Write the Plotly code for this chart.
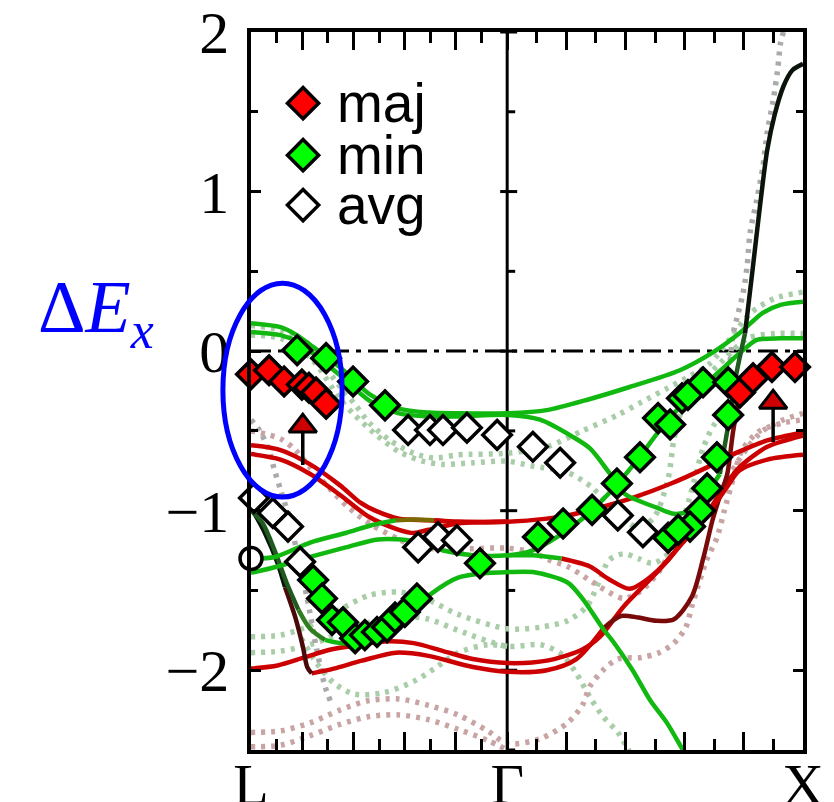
import plotly.graph_objects as go

# ---------------- k-path and energy window ----------------
K_L, K_G, K_X = 0.0, 0.866, 1.866
E_MIN, E_MAX = -2.5, 2.0

# ---------------- solid band lines (k, E) ----------------
ga_k = [0, 0.1, 0.155, 0.2, 0.3, 0.4, 0.5, 0.6, 0.7, 0.866, 1.0, 1.146, 1.28, 1.45, 1.56, 1.65, 1.73, 1.79, 1.866]
ga_e = [0.175, 0.15, 0.10, 0.04, -0.10, -0.27, -0.36, -0.385, -0.39, -0.39, -0.37, -0.30, -0.225, -0.12, -0.01, 0.11, 0.24, 0.29, 0.31]

gb_k = [0, 0.1, 0.155, 0.2, 0.3, 0.4, 0.5, 0.6, 0.7, 0.866, 0.977, 1.09, 1.146, 1.21, 1.26, 1.3, 1.37, 1.43, 1.48, 1.54, 1.585]
gb_e = [0.12, 0.10, 0.06, 0.0, -0.15, -0.31, -0.39, -0.41, -0.41, -0.40, -0.43, -0.54, -0.61, -0.76, -0.89, -0.93, -0.98, -1.02, -1.0, -0.89, -0.77]
gb_dark_k = [1.585, 1.61, 1.64, 1.67]
gb_dark_e = [-0.77, -0.5, -0.15, 0.11]
gb_black_k = [1.67, 1.695, 1.72, 1.745, 1.77, 1.80, 1.83, 1.866]
gb_black_e = [0.11, 0.5, 0.9, 1.26, 1.48, 1.66, 1.76, 1.80]

ge_k = [0, 0.08, 0.2, 0.32, 0.41, 0.49]
ge_e = [-1.30, -1.29, -1.2, -1.14, -1.09, -1.06]
ge_mix_k = [0.49, 0.55, 0.62]
ge_mix_e = [-1.06, -1.055, -1.06]
ge_red_k = [0.62, 0.7, 0.866]
ge_red_e = [-1.06, -1.07, -1.07]

gc_k = [0, 0.09, 0.2, 0.32, 0.43, 0.55, 0.65, 0.75, 0.866, 0.95, 1.03, 1.146, 1.24, 1.315, 1.38, 1.47, 1.54, 1.6, 1.66, 1.71, 1.79, 1.866]
gc_e = [-1.39, -1.35, -1.29, -1.23, -1.18, -1.19, -1.25, -1.28, -1.28, -1.25, -1.17, -1.01, -0.83, -0.66, -0.5, -0.31, -0.2, -0.1, 0.0, 0.07, 0.08, 0.08]

gv_dark_k = [0, 0.04, 0.08, 0.12, 0.16]
gv_dark_e = [-1.0, -1.08, -1.25, -1.45, -1.62]
gv_mid_k = [0.16, 0.2, 0.25]
gv_mid_e = [-1.62, -1.74, -1.81]
gv_k = [0.25, 0.3, 0.38, 0.45, 0.5, 0.55, 0.61, 0.7, 0.8, 0.866, 0.953, 1.07, 1.12, 1.19, 1.224, 1.29, 1.35, 1.406, 1.46, 1.5]
gv_e = [-1.81, -1.83, -1.83, -1.79, -1.72, -1.62, -1.52, -1.42, -1.39, -1.385, -1.385, -1.45, -1.55, -1.74, -1.82, -2.0, -2.19, -2.33, -2.5, -2.62]

ra_k = [0, 0.1, 0.2, 0.3, 0.37, 0.42, 0.5, 0.6, 0.7, 0.866, 1.0, 1.07, 1.18, 1.29, 1.42, 1.54, 1.65, 1.745, 1.866]
ra_e = [-0.59, -0.62, -0.71, -0.84, -0.95, -1.0, -1.05, -1.06, -1.07, -1.07, -1.05, -1.03, -0.98, -0.92, -0.83, -0.73, -0.63, -0.56, -0.51]

rb_k = [0, 0.1, 0.2, 0.3, 0.4, 0.5, 0.55, 0.6, 0.7, 0.866]
rb_e = [-0.645, -0.68, -0.77, -0.9, -1.04, -1.12, -1.14, -1.12, -1.08, -1.07]
rb2_green_k = [0.866, 0.95, 1.05]
rb2_green_e = [-1.28, -1.28, -1.30]
rb2_k = [1.05, 1.146, 1.21, 1.28, 1.34, 1.41, 1.48, 1.56, 1.61, 1.65, 1.745, 1.866]
rb2_e = [-1.30, -1.35, -1.43, -1.49, -1.43, -1.31, -1.14, -0.98, -0.85, -0.75, -0.68, -0.65]

rc_k = [0, 0.09, 0.18, 0.27, 0.37, 0.45, 0.55, 0.65, 0.75, 0.866, 1.0, 1.12, 1.18, 1.26, 1.37, 1.46, 1.54, 1.6, 1.65, 1.745, 1.866]
rc_e = [-1.99, -1.97, -1.92, -1.87, -1.84, -1.82, -1.83, -1.88, -1.93, -1.955, -1.94, -1.87, -1.79, -1.6, -1.39, -1.2, -1.02, -0.85, -0.73, -0.60, -0.53]

rd_black_k = [0, 0.047, 0.09, 0.115]
rd_black_e = [-0.98, -1.14, -1.33, -1.48]
rd_dark_k = [0.115, 0.15, 0.175, 0.19, 0.205]
rd_dark_e = [-1.48, -1.67, -1.85, -1.98, -2.02]
rd_k = [0.205, 0.28, 0.375, 0.49, 0.6, 0.75, 0.866, 1.0, 1.1, 1.19]
rd_e = [-2.02, -1.99, -1.94, -1.89, -1.91, -1.98, -2.01, -2.0, -1.93, -1.74]
rd2_k = [1.19, 1.25, 1.31, 1.37, 1.43, 1.49, 1.53, 1.56, 1.585, 1.61, 1.63, 1.66]
rd2_e = [-1.74, -1.66, -1.67, -1.69, -1.68, -1.54, -1.29, -1.06, -0.91, -0.77, -0.5, -0.2]

# ---------------- dotted (projected) bands ----------------
dg1_k = [0, 0.1, 0.2, 0.25, 0.3, 0.35, 0.4, 0.47, 0.55, 0.62, 0.7, 0.866, 1.0, 1.12, 1.24, 1.32, 1.41, 1.48, 1.55, 1.62, 1.69, 1.77, 1.866]
dg1_e = [0.16, 0.13, 0.02, -0.1, -0.22, -0.33, -0.45, -0.56, -0.64, -0.67, -0.65, -0.64, -0.6, -0.5, -0.4, -0.32, -0.23, -0.16, -0.08, 0.08, 0.24, 0.33, 0.37]
dg2_k = [0, 0.1, 0.2, 0.25, 0.3, 0.35, 0.42, 0.5, 0.58, 0.65, 0.75, 0.866, 0.95, 1.07, 1.15, 1.22, 1.3, 1.36, 1.41, 1.43, 1.46, 1.52, 1.6, 1.68, 1.77, 1.866]
dg2_e = [0.10, 0.08, -0.04, -0.16, -0.3, -0.4, -0.52, -0.63, -0.69, -0.71, -0.7, -0.69, -0.72, -0.76, -0.85, -0.98, -1.1, -1.05, -0.8, -0.55, -0.35, -0.2, -0.05, 0.08, 0.11, 0.11]
dg3_k = [0, 0.1, 0.2, 0.3, 0.4, 0.5, 0.6, 0.7, 0.866, 0.98, 1.07, 1.135, 1.18, 1.21, 1.26, 1.31, 1.36, 1.42, 1.47, 1.5, 1.53, 1.57, 1.62]
dg3_e = [-1.79, -1.78, -1.72, -1.62, -1.53, -1.51, -1.56, -1.65, -1.74, -1.73, -1.69, -1.6, -1.43, -1.31, -1.27, -1.3, -1.33, -1.25, -1.0, -0.8, -0.6, -0.45, -0.38]
dg4_k = [0, 0.1, 0.2, 0.3, 0.4, 0.5, 0.6, 0.7, 0.866, 0.98, 1.05, 1.1, 1.146, 1.19, 1.24, 1.27, 1.29]
dg4_e = [-1.89, -1.88, -1.84, -1.77, -1.7, -1.66, -1.68, -1.75, -1.85, -1.84, -1.9, -2.02, -2.17, -2.29, -2.39, -2.48, -2.55]
dg5_k = [0.17, 0.22, 0.28, 0.35, 0.45, 0.55, 0.62, 0.7, 0.8, 0.866]
dg5_e = [-1.8, -1.95, -2.08, -2.15, -2.14, -2.07, -1.99, -1.89, -1.84, -1.85]

dp1_k = [0, 0.1, 0.15, 0.2, 0.27, 0.33, 0.4, 0.5, 0.57, 0.7, 0.866, 0.95, 1.01, 1.07, 1.14, 1.2, 1.26, 1.32, 1.38, 1.43, 1.48, 1.53, 1.575, 1.62, 1.68, 1.73, 1.8, 1.866]
dp1_e = [-0.5, -0.55, -0.62, -0.73, -0.87, -0.98, -1.08, -1.18, -1.23, -1.24, -1.235, -1.26, -1.31, -1.35, -1.43, -1.5, -1.55, -1.5, -1.38, -1.22, -1.1, -1.06, -0.93, -0.77, -0.6, -0.5, -0.43, -0.39]
dp2_k = [0, 0.1, 0.2, 0.3, 0.4, 0.5, 0.6, 0.7, 0.8, 0.866, 0.977, 1.07, 1.12, 1.146, 1.19, 1.24, 1.32, 1.38, 1.43, 1.47, 1.49, 1.51, 1.54, 1.575, 1.6, 1.63, 1.66, 1.72, 1.8, 1.866]
dp2_e = [-2.39, -2.38, -2.33, -2.25, -2.19, -2.18, -2.22, -2.28, -2.38, -2.46, -2.43, -2.33, -2.22, -2.1, -2.0, -1.93, -1.92, -1.89, -1.83, -1.73, -1.6, -1.48, -1.31, -1.17, -1.0, -0.8, -0.62, -0.5, -0.45, -0.43]
dp3_k = [0, 0.1, 0.2, 0.3, 0.4, 0.5, 0.6, 0.7, 0.8, 0.866]
dp3_e = [-2.48, -2.47, -2.41, -2.34, -2.29, -2.28, -2.31, -2.37, -2.44, -2.5]

dx1_k = [1.80, 1.79, 1.78, 1.765, 1.745, 1.73, 1.71, 1.687, 1.677, 1.663, 1.643, 1.63, 1.62]
dx1_e = [2.0, 1.93, 1.76, 1.57, 1.37, 1.15, 0.95, 0.74, 0.53, 0.36, 0.21, 0.11, -0.06]
dx2_k = [0, 0.03, 0.06, 0.08, 0.1, 0.13, 0.16, 0.19, 0.22, 0.25, 0.27]
dx2_e = [-0.43, -0.5, -0.62, -0.75, -0.87, -1.05, -1.3, -1.55, -1.85, -2.1, -2.2]

# ---------------- symbols ----------------
maj_k = [0.0, 0.061, 0.112, 0.172, 0.196, 0.22, 0.254, 1.653, 1.697, 1.761, 1.839]
maj_e = [-0.145, -0.12, -0.19, -0.21, -0.23, -0.26, -0.33, -0.26, -0.17, -0.10, -0.10]

min_k = [0.156, 0.254, 0.345, 0.453,
         0.21, 0.24, 0.274, 0.311, 0.352, 0.385, 0.426, 0.46, 0.487, 0.52, 0.561,
         0.774,
         0.97, 1.055, 1.153, 1.237, 1.315, 1.376, 1.417, 1.457, 1.477, 1.528, 1.613,
         1.613, 1.575, 1.542, 1.518, 1.484, 1.41, 1.444]
min_e = [0.006, -0.044, -0.19, -0.34,
         -1.435, -1.55, -1.685, -1.70, -1.80, -1.78, -1.76, -1.73, -1.67, -1.635, -1.55,
         -1.33,
         -1.165, -1.08, -0.995, -0.83, -0.665, -0.42, -0.46, -0.295, -0.275, -0.195, -0.195,
         -0.40, -0.665, -0.86, -1.0, -1.10, -1.17, -1.12]

avg_k = [0.01, 0.074, 0.125, 0.166, 0.531, 0.605, 0.649, 0.73, 0.832, 0.953, 1.045,
         0.565, 0.632, 0.696, 1.24, 1.325]
avg_e = [-0.92, -1.015, -1.10, -1.32, -0.495, -0.495, -0.495, -0.48, -0.525, -0.60, -0.70,
         -1.23, -1.165, -1.185, -1.03, -1.135]

circ_k = [0.0]
circ_e = [-1.30]

arrow_k = [0.175, 1.765]
arrow_tail = [-0.714, -0.57]
arrow_head = [-0.47, -0.32]

legend_labels = ["maj", "min", "avg"]
legend_fill = ["#ff0000", "#00ff00", "#ffffff"]
legend_k = 0.176
legend_text_k = 0.284
legend_e = [1.554, 1.228, 0.915]

ellipse = dict(k0=-0.095, k1=0.308, e0=-0.915, e1=0.426)

# ---------------- styles ----------------
GREEN = "#10b810"
RED = "#cc0000"
DKRED = "#7a0a0a"
DKGREEN = "#1f5a1f"
MIDGREEN = "#2f7f1f"
BLACK = "#0a140a"
OLIVE = "#7a6a00"
PGREEN = "#a9cda9"
PPINK = "#c8a4a4"
PGRAY = "#aaaaaa"

fig = go.Figure()


def dotted(k, e, color):
    fig.add_trace(go.Scatter(x=k, y=e, mode="lines",
                             line=dict(color=color, width=5.5, dash="4px,6px", shape="spline", smoothing=0.8),
                             hoverinfo="skip", showlegend=False))


def solid(k, e, color, width=4.5):
    fig.add_trace(go.Scatter(x=k, y=e, mode="lines", line=dict(color=color, width=width, shape="spline", smoothing=0.8),
                             hoverinfo="skip", showlegend=False))


for k, e, c in [(dg1_k, dg1_e, PGREEN), (dg2_k, dg2_e, PGREEN), (dg3_k, dg3_e, PGREEN),
                (dg4_k, dg4_e, PGREEN), (dg5_k, dg5_e, PGREEN),
                (dp1_k, dp1_e, PPINK), (dp2_k, dp2_e, PPINK), (dp3_k, dp3_e, PPINK),
                (dx1_k, dx1_e, PGRAY), (dx2_k, dx2_e, PGRAY)]:
    dotted(k, e, c)

for k, e, c in [(rc_k, rc_e, RED), (rd_k, rd_e, RED), (rd2_k, rd2_e, DKRED),
                (rd_black_k, rd_black_e, BLACK), (rd_dark_k, rd_dark_e, "#4a0a0a"),
                (ra_k, ra_e, RED), (rb_k, rb_e, RED),
                (rb2_green_k, rb2_green_e, GREEN), (rb2_k, rb2_e, RED),
                (gv_dark_k, gv_dark_e, DKGREEN), (gv_mid_k, gv_mid_e, MIDGREEN), (gv_k, gv_e, GREEN),
                (ge_k, ge_e, GREEN), (ge_mix_k, ge_mix_e, OLIVE), (ge_red_k, ge_red_e, RED),
                (gc_k, gc_e, GREEN),
                (ga_k, ga_e, GREEN), (gb_k, gb_e, GREEN),
                (gb_dark_k, gb_dark_e, DKGREEN), (gb_black_k, gb_black_e, BLACK)]:
    solid(k, e, c)

# arrows
ax_x, ax_y = [], []
for k, t, h in zip(arrow_k, arrow_tail, arrow_head):
    ax_x += [k, k, None]
    ax_y += [t, h, None]
fig.add_trace(go.Scatter(x=ax_x, y=ax_y, mode="lines", line=dict(color="black", width=3.5),
                         hoverinfo="skip", showlegend=False))
fig.add_trace(go.Scatter(x=arrow_k, y=arrow_head, mode="markers", cliponaxis=False,
                         marker=dict(symbol="triangle-up", size=24, color="#cc0000", line=dict(color="black", width=3)),
                         hoverinfo="skip", showlegend=False))

MK = dict(size=22, line=dict(color="black", width=3.5))
fig.add_trace(go.Scatter(x=avg_k, y=avg_e, mode="markers", cliponaxis=False,
                         marker=dict(symbol="diamond", color="white", **MK), showlegend=False))
fig.add_trace(go.Scatter(x=min_k, y=min_e, mode="markers", cliponaxis=False,
                         marker=dict(symbol="diamond", color="#00ff00", **MK), showlegend=False))
fig.add_trace(go.Scatter(x=maj_k, y=maj_e, mode="markers", cliponaxis=False,
                         marker=dict(symbol="diamond", color="#ff0000", **MK), showlegend=False))
fig.add_trace(go.Scatter(x=circ_k, y=circ_e, mode="markers", cliponaxis=False,
                         marker=dict(symbol="circle", color="white", size=22, line=dict(color="black", width=3.5)),
                         showlegend=False))

# in-plot legend
fig.add_trace(go.Scatter(x=[legend_k] * len(legend_e), y=legend_e, mode="markers", cliponaxis=False,
                         marker=dict(symbol="diamond", size=24, color=legend_fill, line=dict(color="black", width=3.5)),
                         showlegend=False, hoverinfo="skip"))
for lab, e in zip(legend_labels, legend_e):
    fig.add_annotation(x=legend_text_k, y=e, xref="x", yref="y", text=lab, showarrow=False,
                       xanchor="left", yanchor="middle",
                       font=dict(family="Liberation Sans", size=55, color="black"))

# axes ticks
dL = (K_G - K_L) / 10
dX = (K_X - K_G) / 10
x_major = [K_L] + [K_L + i * dL for i in (2, 4, 6, 8)] + [K_G] + [K_G + i * dX for i in (2, 4, 6, 8)] + [K_X]
x_text = ["L", "", "", "", "", "Γ", "", "", "", "", "X"]
x_minor = [K_L + i * dL for i in (1, 3, 5, 7, 9)] + [K_G + i * dX for i in (1, 3, 5, 7, 9)]
y_major = [-2, -1, 0, 1, 2]
y_text = ["−2", "−1", "0", "1", "2"]

TICKFONT = dict(family="Liberation Serif", size=60, color="black")
XFONT = dict(family="Liberation Serif", size=58, color="black")
fig.update_xaxes(range=[K_L, K_X], showgrid=False, zeroline=False, showline=True, linecolor="black", linewidth=3.5,
                 mirror="allticks", ticks="inside", ticklen=18, tickwidth=3, tickcolor="black", automargin=False,
                 tickmode="array", tickvals=x_major, ticktext=x_text, tickfont=XFONT, ticklabelstandoff=-19,
                 minor=dict(tickmode="array", tickvals=x_minor, ticks="inside", ticklen=11, tickwidth=3, tickcolor="black"))
fig.update_yaxes(range=[E_MIN, E_MAX], showgrid=False, zeroline=False, showline=True, linecolor="black", linewidth=3.5,
                 mirror="allticks", ticks="inside", ticklen=10, tickwidth=3, tickcolor="black", automargin=False,
                 tickmode="array", tickvals=y_major, ticktext=y_text, tickfont=TICKFONT, ticklabelstandoff=6,
                 minor=dict(dtick=0.5, tick0=0, ticks="inside", ticklen=7, tickwidth=3, tickcolor="black"))

# Γ line, zero reference, Γ ticks
fig.add_shape(type="line", xref="x", yref="paper", x0=K_G, x1=K_G, y0=0, y1=1,
              line=dict(color="black", width=3), layer="below")
fig.add_shape(type="line", xref="paper", yref="y", x0=0, x1=1, y0=0, y1=0,
              line=dict(color="black", width=3, dash="20px,7px,5px,7px"), layer="below")
e = E_MIN
while e <= E_MAX + 1e-9:
    major = abs(e - round(e)) < 1e-9
    fig.add_shape(type="line", xref="x", yref="y", xsizemode="pixel", xanchor=K_G,
                  x0=-7 if major else 0, x1=10 if major else 8, y0=e, y1=e,
                  line=dict(color="black", width=3), layer="below")
    e += 0.5


# ellipse (paper coordinates derived from data coordinates)
def px(k):
    return (k - K_L) / (K_X - K_L)


def py(v):
    return (v - E_MIN) / (E_MAX - E_MIN)


fig.add_shape(type="circle", xref="paper", yref="paper",
              x0=px(ellipse["k0"]), x1=px(ellipse["k1"]), y0=py(ellipse["e0"]), y1=py(ellipse["e1"]),
              line=dict(color="#0000ff", width=5), layer="above")

# axis title
fig.add_annotation(xref="paper", yref="paper", x=(96 - 251) / 552, y=(750 - 312) / 718,
                   text="Δ<i>E</i><sub><i>x</i></sub>", showarrow=False, xanchor="center", yanchor="middle",
                   font=dict(family="Liberation Serif", size=74, color="#0000ff"))

fig.update_layout(width=834, height=802, margin=dict(l=251, r=31, t=32, b=52, autoexpand=False),
                  plot_bgcolor="white", paper_bgcolor="white", showlegend=False)

fig.write_html("out.html")
